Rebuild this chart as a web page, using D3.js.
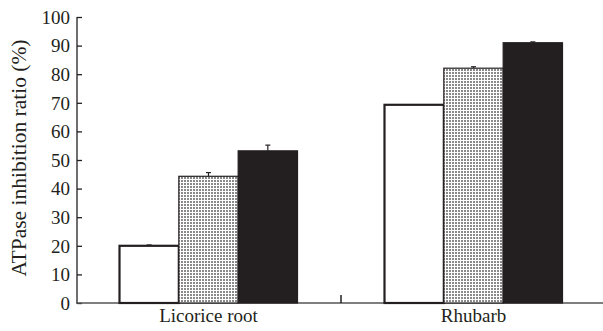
<!DOCTYPE html>
<html><head><meta charset="utf-8">
<script src="https://cdn.jsdelivr.net/npm/d3@7"></script>
<style>body{margin:0;background:#fff}svg{display:block}text{font-family:"Liberation Serif","Times New Roman",serif;fill:#231f20}</style>
</head><body>
<svg id="c" width="603" height="331"></svg>
<script>
const categories = ["Licorice root", "Rhubarb"];
const seriesNames = ["Series 1", "Series 2", "Series 3"];
const values = [[20, 44.3, 53.2], [69.3, 82.1, 91.0]];
const errors = [[0.3, 1.3, 2.0], [0, 0.5, 0.3]];
const yTicks = [0, 10, 20, 30, 40, 50, 60, 70, 80, 90, 100];
const yTitle = "ATPase inhibition ratio (%)";

const svg = d3.select("#c");
const ink = "#231f20";
const defs = svg.append("defs");
const pat = defs.append("pattern").attr("id", "dots").attr("patternUnits", "userSpaceOnUse")
  .attr("width", 3).attr("height", 3);
pat.append("rect").attr("width", 3).attr("height", 3).attr("fill", "#fff");
pat.append("rect").attr("width", 2).attr("height", 2).attr("fill", "#8a8a8a");

const y = d3.scaleLinear().domain([0, 100]).range([303, 17]);
const x0 = d3.scaleBand().domain(categories).range([76, 606]).paddingInner(0).paddingOuter(0);
const x1 = d3.scaleBand().domain(seriesNames).range([43.5, x0.bandwidth() - 43.5]).padding(0);
const fills = ["#fff", "url(#dots)", ink];

// axes
const yAxis = d3.axisLeft(y).tickValues(yTicks).tickSize(-5).tickPadding(7);
const gy = svg.append("g").attr("transform", "translate(77,0)").call(yAxis);
gy.select(".domain").attr("stroke", ink).attr("stroke-width", 1.3).attr("d", `M0,${y(0)}V${y(100)}`);
gy.selectAll(".tick line").attr("stroke", ink).attr("stroke-width", 1.3);
gy.selectAll(".tick text").attr("font-size", 19).attr("font-family", "Liberation Serif").attr("fill", ink).attr("dy", "0.33em");

// x axis line
svg.append("line").attr("x1", 76).attr("x2", 603).attr("y1", y(0)).attr("y2", y(0))
  .attr("stroke", "#555").attr("stroke-width", 1.5);

// bars
categories.forEach((c, ci) => {
  const g = svg.append("g").attr("transform", `translate(${x0(c)},0)`);
  seriesNames.forEach((s, si) => {
    const v = values[ci][si], e = errors[ci][si];
    const bx = x1(s), bw = x1.bandwidth();
    if (e > 0) {
      const cx = bx + bw / 2;
      g.append("line").attr("x1", cx).attr("x2", cx).attr("y1", y(v)).attr("y2", y(v + e)).attr("stroke", ink).attr("stroke-width", 1.2);
      g.append("line").attr("x1", cx - 2.5).attr("x2", cx + 2.5).attr("y1", y(v + e)).attr("y2", y(v + e)).attr("stroke", ink).attr("stroke-width", 1.2);
    }
    g.append("rect").attr("x", bx).attr("width", bw).attr("y", y(v)).attr("height", y(0) - y(v))
      .attr("fill", fills[si]).attr("stroke", ink).attr("stroke-width", si === 0 ? 2.2 : 1.2);
  });
});

// separator tick
svg.append("line").attr("x1", x0(categories[1])).attr("x2", x0(categories[1]))
  .attr("y1", y(0)).attr("y2", y(0) - 8).attr("stroke", ink).attr("stroke-width", 1.5);

// category labels
svg.selectAll(".cat").data(categories).enter().append("text")
  .attr("x", d => x0(d) + x0.bandwidth() / 2).attr("y", 322)
  .attr("text-anchor", "middle").attr("font-size", 19).text(d => d);

// y title
svg.append("text").attr("transform", `translate(26,158) rotate(-90)`)
  .attr("text-anchor", "middle").attr("font-size", 21.5).text(yTitle);
</script>
</body></html>
